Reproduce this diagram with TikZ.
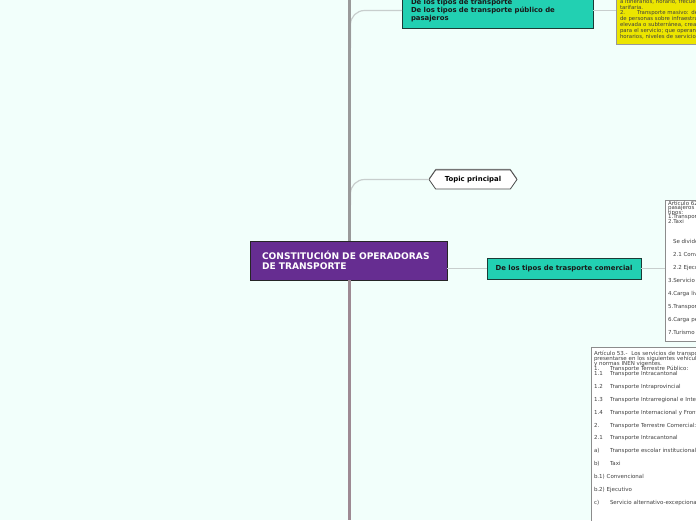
\documentclass[tikz,border=0pt]{standalone}
\usepackage{fontspec}
\setmainfont{DejaVu Sans}
\usetikzlibrary{shapes.symbols,shadows}

\definecolor{fondo}{HTML}{F2FFFB}
\definecolor{morado}{HTML}{662D91}
\definecolor{turquesa}{HTML}{22D0B2}
\definecolor{verdeosc}{HTML}{1C3B36}
\definecolor{amarillo}{HTML}{ECE500}
\definecolor{ramagris}{HTML}{C8CECD}
\definecolor{troncogris}{HTML}{9A9A9A}
\definecolor{troncorosa}{HTML}{9E8A93}

\newcommand{\chico}{\fontsize{5.5}{4.5}\selectfont\lineskiplimit=-10pt\lineskip=0pt}
\newcommand{\chicob}{\fontsize{5.5}{5}\selectfont\lineskiplimit=-10pt\lineskip=0pt}
\newcommand{\chicoam}{\fontsize{5.4}{5.9}\selectfont\lineskiplimit=-10pt\lineskip=0pt}
\newcommand{\etiq}[2]{\makebox[#1][l]{#2}}

\begin{document}
\begin{tikzpicture}[x=1pt, y=-1pt,
  every node/.style={outer sep=0pt},
  rama/.style={draw=ramagris, line width=1.2pt},
  tronco/.style={draw=troncogris, line width=3.2pt},
  raiz/.style={rectangle, draw=black!85, line width=0.9pt, fill=morado, text=white,
    font=\fontsize{9.1}{10}\selectfont\bfseries, align=left, text width=173pt,
    inner xsep=12pt, minimum height=39pt,
    drop shadow={shadow xshift=0.6pt, shadow yshift=-0.6pt, opacity=0.4}},
  tema/.style={rectangle, draw=verdeosc, line width=0.9pt, fill=turquesa, text=black!90,
    font=\fontsize{6.9}{8}\selectfont\bfseries,
    drop shadow={shadow xshift=0.6pt, shadow yshift=-1.2pt, opacity=0.6}},
  topico/.style={signal, signal to=west and east, signal pointer angle=110,
    draw=black!70, line width=0.8pt, fill=white, inner sep=0pt,
    font=\fontsize{6.9}{8}\selectfont\bfseries, minimum width=88pt, minimum height=19pt,
    drop shadow={shadow xshift=0pt, shadow yshift=1.2pt, fill=black!45, opacity=1}},
  nota/.style={rectangle, draw=black!45, line width=0.6pt, fill=white, text=black!75,
    font=\chico, align=left, anchor=north west, inner xsep=3pt, inner ysep=1.5pt},
  notaamarilla/.style={nota, fill=amarillo, draw=black!40, font=\chicoam,
    inner xsep=4pt, inner ysep=2pt}
]
% --- Fondo ---
\fill[fondo] (0,0) rectangle (696,520);
\useasboundingbox (0,0) rectangle (696,520);
\clip (0,0) rectangle (696,520);
%
% --- Nodos ---
\node[raiz, anchor=north west] (central) at (250,241) {CONSTITUCIÓN DE OPERADORAS\\DE TRANSPORTE};
\node[tema, text width=173pt, inner xsep=9pt, align=left, minimum height=35pt] (publico) at (497.5,10.5)
  {De los tipos de transporte\\De los tipos de transporte público de\\pasajeros};
\node[topico] (topico) at (473,179.5) {Topic principal};
\node[tema, minimum width=154pt, minimum height=21pt] (comercial) at (564,268.5) {De los tipos de trasporte comercial};
%
% --- Notas ---
\node[notaamarilla, text width=230pt, text height=5.1pt, text depth=38.9pt] (masivo) at (616,-4)
  {a itinerarios, horario, frecuencias mínimas y estructura\\
   tarifaria.\\
   \etiq{17pt}{2.}Transporte masivo: destinado al traslado\\
   de personas sobre infraestructura exclusiva o especial\\
   elevada o subterránea, creada o asignada\\
   para el servicio; que operan con rutas,\\
   horarios, niveles de servicio y tarifa.};
\node[nota, text width=150pt, text height=3.9pt, text depth=134.1pt] (clases) at (665,200)
  {Artículo 62.- Los servicios de transporte comercial de\\
   pasajeros y bienes se clasifican en los siguientes\\
   tipos:\\
   1.Transporte escolar e institucional\\
   2.Taxi\\[15.5pt]
   \hspace*{5pt}Se divide en:\\[8.5pt]
   \hspace*{5pt}2.1 Convencional\\[8.5pt]
   \hspace*{5pt}2.2 Ejecutivo\\[8.5pt]
   3.Servicio alternativo-excepcional\\[8.5pt]
   4.Carga liviana\\[8.5pt]
   5.Transporte mixto\\[8.5pt]
   6.Carga pesada\\[8.5pt]
   7.Turismo};
\node[nota, font=\chicob, text width=170pt, text height=6.9pt, text depth=200pt] (servicios) at (591,347)
  {Artículo 53.-\ \ Los servicios de transporte terrestre deberán\\
   presentarse en los siguientes vehículos homologados\\
   y normas INEN vigentes.\\
   \etiq{16pt}{1.}Transporte Terrestre Público:\\
   \etiq{16pt}{1.1}Transporte Intracantonal\\[7.9pt]
   \etiq{16pt}{1.2}Transporte Intraprovincial\\[7.9pt]
   \etiq{16pt}{1.3}Transporte Intrarregional e Interprovincial\\[7.9pt]
   \etiq{16pt}{1.4}Transporte Internacional y Fronterizo\\[7.9pt]
   \etiq{16pt}{2.}Transporte Terrestre Comercial:\\[7.9pt]
   \etiq{16pt}{2.1}Transporte Intracantonal\\[7.9pt]
   \etiq{16pt}{a)}Transporte escolar institucional\\[7.9pt]
   \etiq{16pt}{b)}Taxi\\[7.9pt]
   b.1) Convencional\\[7.9pt]
   b.2) Ejecutivo\\[7.9pt]
   \etiq{16pt}{c)}Servicio alternativo-excepcional};
%
% --- Ramas ---
\coordinate (r1) at (350.5,48);
\coordinate (r2) at (350.5,205);
\draw[rama, rounded corners=14pt] (r1) |- (publico.west);
\draw[rama, rounded corners=14pt] (r2) |- (topico.west);
\draw[rama] (comercial.west -| central.east) -- (comercial.west);
\draw[rama] (publico.east) -- (publico.east -| masivo.west);
\draw[rama] (comercial.east) -- (comercial.east -| clases.west);
%
% --- Tronco ---
\coordinate (tope) at (349.5,0);
\coordinate (pie) at (349.5,520);
\draw[tronco] (tope) -- (central.north -| tope);
\draw[tronco, draw=troncorosa] (central.south -| tope) -- (pie);
%
\end{tikzpicture}
\end{document}
